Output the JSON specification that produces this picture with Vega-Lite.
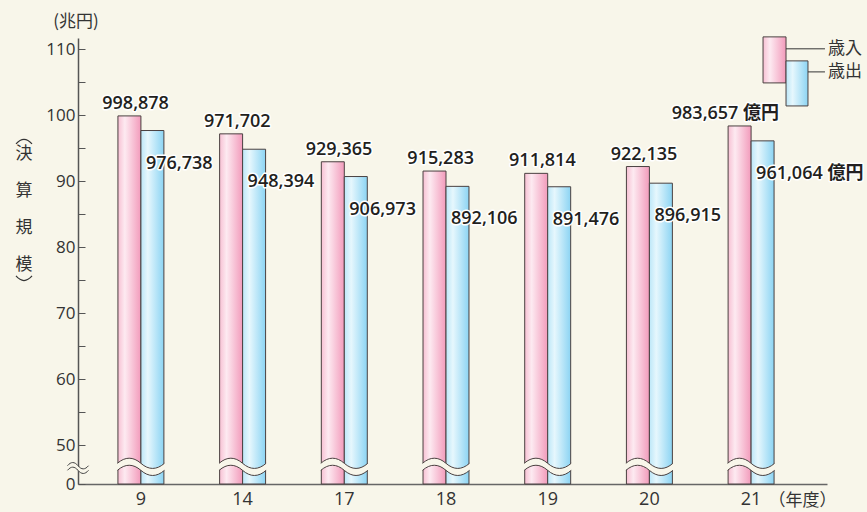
{
  "$schema": "https://vega.github.io/schema/vega-lite/v6.json",
  "width": 749,
  "height": 446,
  "autosize": {"type": "none"},
  "padding": {"left": 78, "top": 38, "right": 40, "bottom": 28},
  "background": "#f8f6ea",
  "config": {"view": {"stroke": null}, "font": "Open Sans"},
  "datasets": {
    "budget": [
      {"year": "9", "series": "歳入", "value": 99.8878, "label": "998,878"},
      {"year": "9", "series": "歳出", "value": 97.6738, "label": "976,738"},
      {"year": "14", "series": "歳入", "value": 97.1702, "label": "971,702"},
      {"year": "14", "series": "歳出", "value": 94.8394, "label": "948,394"},
      {"year": "17", "series": "歳入", "value": 92.9365, "label": "929,365"},
      {"year": "17", "series": "歳出", "value": 90.6973, "label": "906,973"},
      {"year": "18", "series": "歳入", "value": 91.5283, "label": "915,283"},
      {"year": "18", "series": "歳出", "value": 89.2106, "label": "892,106"},
      {"year": "19", "series": "歳入", "value": 91.1814, "label": "911,814"},
      {"year": "19", "series": "歳出", "value": 89.1476, "label": "891,476"},
      {"year": "20", "series": "歳入", "value": 92.2135, "label": "922,135"},
      {"year": "20", "series": "歳出", "value": 89.6915, "label": "896,915"},
      {"year": "21", "series": "歳入", "value": 98.3657, "label": "983,657 億円"},
      {"year": "21", "series": "歳出", "value": 96.1064, "label": "961,064 億円"}
    ],
    "years": [
      {"year": "9"}, {"year": "14"}, {"year": "17"}, {"year": "18"}, {"year": "19"}, {"year": "20"}, {"year": "21"}
    ],
    "legend": [
      {"series": "歳入"}, {"series": "歳出"}
    ],
    "one": [{"item": "decor"}]
  },
  "layer": [
    {
      "layer": [
        {
          "data": {"name": "budget"},
          "mark": {"type": "bar", "stroke": "#4a4040", "strokeWidth": 1},
          "encoding": {
            "x": {
              "field": "year", "type": "nominal",
              "sort": ["9", "14", "17", "18", "19", "20", "21"],
              "scale": {"paddingInner": 0.548, "paddingOuter": 0.4565, "align": 0.43},
              "axis": {
                "labelAngle": 0, "ticks": false, "domainColor": "#666", "domainWidth": 1.5,
                "labelFontSize": 18, "labelColor": "#333", "labelPadding": 6, "labelFont": "Open Sans",
                "title": "（年度）", "titleX": 724, "titleY": 16, "titleAlign": "center",
                "titleBaseline": "middle", "titleFont": "Noto Sans CJK JP",
                "titleFontSize": 17, "titleFontWeight": "normal", "titleColor": "#333"
              }
            },
            "xOffset": {
              "field": "series", "type": "nominal",
              "scale": {"domain": ["歳入", "歳出"], "paddingInner": 0, "paddingOuter": 0}
            },
            "y": {
              "field": "value", "type": "quantitative",
              "scale": {"domain": [0, 50, 111.7], "range": [446, 407, 0], "nice": false, "zero": false},
              "axis": {
                "values": [0, 50, 55, 60, 65, 70, 75, 80, 85, 90, 95, 100, 105, 110],
                "tickCount": 30,
                "labelExpr": "datum.value % 10 === 0 ? datum.label : ''",
                "labelOverlap": false,
                "tickSize": -7, "tickColor": "#555", "domainColor": "#555", "domainWidth": 1.5,
                "grid": false,
                "labelFontSize": 17, "labelColor": "#333", "labelPadding": 10, "labelFont": "Open Sans",
                "title": null
              }
            },
            "fill": {
              "condition": {
                "test": "datum.series === '歳入'",
                "value": {"gradient": "linear", "x1": 0, "x2": 1, "y1": 0, "y2": 0,
                  "stops": [{"offset": 0, "color": "#f7c0d3"}, {"offset": 0.3, "color": "#fdeaf1"}, {"offset": 1, "color": "#f29bbb"}]}
              },
              "value": {"gradient": "linear", "x1": 0, "x2": 1, "y1": 0, "y2": 0,
                "stops": [{"offset": 0, "color": "#bce7f8"}, {"offset": 0.3, "color": "#e6f7fd"}, {"offset": 1, "color": "#8cd4f3"}]}
            }
          }
        },
        {
          "data": {"name": "years"},
          "mark": {"type": "point", "filled": true, "fill": "#f8f6ea", "strokeWidth": 0, "opacity": 1,
            "shape": "M-1,-0.15 C-0.67,-0.44 -0.33,-0.44 0,-0.15 C0.33,0.14 0.67,0.14 1,-0.15 L1.05,-0.15 L1.05,0.15 L1,0.15 C0.67,0.44 0.33,0.44 0,0.15 C-0.33,-0.14 -0.67,-0.14 -1,0.15 L-1.05,0.15 L-1.05,-0.15 Z",
            "size": 2209},
          "encoding": {
            "x": {"field": "year", "type": "nominal", "sort": ["9", "14", "17", "18", "19", "20", "21"]},
            "y": {"datum": 22}
          }
        },
        {
          "data": {"name": "years"},
          "mark": {"type": "point", "filled": false, "stroke": "#4a4040", "strokeWidth": 1, "opacity": 1,
            "shape": "M-1,-0.15 C-0.67,-0.44 -0.33,-0.44 0,-0.15 C0.33,0.14 0.67,0.14 1,-0.15 M-1,0.15 C-0.67,-0.14 -0.33,-0.14 0,0.15 C0.33,0.44 0.67,0.44 1,0.15",
            "size": 2209},
          "encoding": {
            "x": {"field": "year", "type": "nominal", "sort": ["9", "14", "17", "18", "19", "20", "21"]},
            "y": {"datum": 22}
          }
        },
        {
          "data": {"name": "budget"},
          "transform": [{"filter": "datum.series === '歳入'"}],
          "mark": {"type": "text", "align": "right", "baseline": "alphabetic", "dx": 28, "dy": -7,
            "fontSize": 18, "fontWeight": 600, "font": "Open Sans, Noto Sans CJK JP", "stroke": "white", "strokeWidth": 3, "strokeJoin": "round", "fill": "white"},
          "encoding": {
            "x": {"field": "year", "type": "nominal", "sort": ["9", "14", "17", "18", "19", "20", "21"]},
            "y": {"field": "value", "type": "quantitative"},
            "text": {"field": "label"}
          }
        },
        {
          "data": {"name": "budget"},
          "transform": [{"filter": "datum.series === '歳入'"}],
          "mark": {"type": "text", "align": "right", "baseline": "alphabetic", "dx": 28, "dy": -7,
            "fontSize": 18, "fontWeight": 600, "font": "Open Sans, Noto Sans CJK JP", "fill": "#231f20"},
          "encoding": {
            "x": {"field": "year", "type": "nominal", "sort": ["9", "14", "17", "18", "19", "20", "21"]},
            "y": {"field": "value", "type": "quantitative"},
            "text": {"field": "label"}
          }
        },
        {
          "data": {"name": "budget"},
          "transform": [{"filter": "datum.series === '歳出'"}],
          "mark": {"type": "text", "align": "left", "baseline": "alphabetic", "dx": 5, "dy": 38,
            "fontSize": 18, "fontWeight": 600, "font": "Open Sans, Noto Sans CJK JP", "stroke": "white", "strokeWidth": 3, "strokeJoin": "round", "fill": "white"},
          "encoding": {
            "x": {"field": "year", "type": "nominal", "sort": ["9", "14", "17", "18", "19", "20", "21"]},
            "y": {"field": "value", "type": "quantitative"},
            "text": {"field": "label"}
          }
        },
        {
          "data": {"name": "budget"},
          "transform": [{"filter": "datum.series === '歳出'"}],
          "mark": {"type": "text", "align": "left", "baseline": "alphabetic", "dx": 5, "dy": 38,
            "fontSize": 18, "fontWeight": 600, "font": "Open Sans, Noto Sans CJK JP", "fill": "#231f20"},
          "encoding": {
            "x": {"field": "year", "type": "nominal", "sort": ["9", "14", "17", "18", "19", "20", "21"]},
            "y": {"field": "value", "type": "quantitative"},
            "text": {"field": "label"}
          }
        }
      ]
    },
    {
      "layer": [
        {
          "data": {"name": "one"},
          "mark": {"type": "point", "filled": true, "fill": "#f8f6ea", "strokeWidth": 0, "opacity": 1,
            "shape": "M-1,-0.22 C-0.67,-0.62 -0.33,-0.62 0,-0.22 C0.33,0.18 0.67,0.18 1,-0.22 L1,0.22 C0.67,0.62 0.33,0.62 0,0.22 C-0.33,-0.18 -0.67,-0.18 -1,0.22 Z",
            "size": 441},
          "encoding": {
            "x": {"datum": 0, "type": "quantitative", "scale": {"domain": [0, 1], "nice": false, "zero": false}, "axis": null},
            "y": {"datum": 20.5}
          }
        },
        {
          "data": {"name": "one"},
          "mark": {"type": "point", "filled": false, "stroke": "#444", "strokeWidth": 1, "opacity": 1,
            "shape": "M-1,-0.22 C-0.67,-0.62 -0.33,-0.62 0,-0.22 C0.33,0.18 0.67,0.18 1,-0.22 M-1,0.22 C-0.67,-0.18 -0.33,-0.18 0,0.22 C0.33,0.62 0.67,0.62 1,0.22",
            "size": 441},
          "encoding": {
            "x": {"datum": 0, "type": "quantitative"},
            "y": {"datum": 20.5}
          }
        },
        {
          "data": {"name": "one"},
          "mark": {"type": "text", "align": "center", "baseline": "middle", "fontSize": 17, "font": "Noto Sans CJK JP", "fill": "#333", "dx": -2},
          "encoding": {
            "x": {"datum": 0, "type": "quantitative"},
            "y": {"datum": 114.1},
            "text": {"value": "(兆円)"}
          }
        },
        {
          "data": {"name": "one"},
          "mark": {"type": "text", "align": "center", "baseline": "middle", "fontSize": 17, "font": "Noto Sans CJK JP", "fill": "#333", "lineHeight": 37},
          "encoding": {
            "x": {"datum": -0.0721, "type": "quantitative"},
            "y": {"datum": 94.12},
            "text": {"value": ["決", "算", "規", "模"]}
          }
        },
        {
          "data": {"name": "one"},
          "mark": {"type": "point", "filled": false, "stroke": "#333", "strokeWidth": 1.2, "opacity": 1,
            "shape": "M-1,0.25 Q0,-0.9 1,0.25", "size": 256},
          "encoding": {
            "x": {"datum": -0.0721, "type": "quantitative"},
            "y": {"datum": 95.94}
          }
        },
        {
          "data": {"name": "one"},
          "mark": {"type": "point", "filled": false, "stroke": "#333", "strokeWidth": 1.2, "opacity": 1,
            "shape": "M-1,-0.25 Q0,0.9 1,-0.25", "size": 256},
          "encoding": {
            "x": {"datum": -0.0721, "type": "quantitative"},
            "y": {"datum": 75.32}
          }
        },
        {
          "data": {"name": "legend"},
          "transform": [{"filter": "datum.series === '歳入'"}],
          "mark": {"type": "rect", "stroke": "#4a4040", "strokeWidth": 1},
          "encoding": {
            "x": {"datum": 0.9146, "type": "quantitative"},
            "x2": {"datum": 0.9453},
            "y": {"datum": 111.87},
            "y2": {"datum": 104.89},
            "fill": {"value": {"gradient": "linear", "x1": 0, "x2": 1, "y1": 0, "y2": 0,
              "stops": [{"offset": 0, "color": "#f7c0d3"}, {"offset": 0.3, "color": "#fdeaf1"}, {"offset": 1, "color": "#f29bbb"}]}}
          }
        },
        {
          "data": {"name": "legend"},
          "transform": [{"filter": "datum.series === '歳出'"}],
          "mark": {"type": "rect", "stroke": "#4a4040", "strokeWidth": 1},
          "encoding": {
            "x": {"datum": 0.9453, "type": "quantitative"},
            "x2": {"datum": 0.9746},
            "y": {"datum": 108.23},
            "y2": {"datum": 101.4},
            "fill": {"value": {"gradient": "linear", "x1": 0, "x2": 1, "y1": 0, "y2": 0,
              "stops": [{"offset": 0, "color": "#bce7f8"}, {"offset": 0.3, "color": "#e6f7fd"}, {"offset": 1, "color": "#8cd4f3"}]}}
          }
        },
        {
          "data": {"name": "legend"},
          "transform": [{"filter": "datum.series === '歳入'"}],
          "mark": {"type": "rule", "stroke": "#333", "strokeWidth": 1},
          "encoding": {
            "x": {"datum": 0.9453, "type": "quantitative"},
            "x2": {"datum": 0.9973},
            "y": {"datum": 110.06}
          }
        },
        {
          "data": {"name": "legend"},
          "transform": [{"filter": "datum.series === '歳出'"}],
          "mark": {"type": "rule", "stroke": "#333", "strokeWidth": 1},
          "encoding": {
            "x": {"datum": 0.9746, "type": "quantitative"},
            "x2": {"datum": 0.9973},
            "y": {"datum": 106.56}
          }
        },
        {
          "data": {"name": "legend"},
          "transform": [{"filter": "datum.series === '歳入'"}],
          "mark": {"type": "text", "align": "left", "baseline": "middle", "fontSize": 17, "font": "Noto Sans CJK JP", "fill": "#333"},
          "encoding": {
            "x": {"datum": 1.0013, "type": "quantitative"},
            "y": {"datum": 110.06},
            "text": {"field": "series"}
          }
        },
        {
          "data": {"name": "legend"},
          "transform": [{"filter": "datum.series === '歳出'"}],
          "mark": {"type": "text", "align": "left", "baseline": "middle", "fontSize": 17, "font": "Noto Sans CJK JP", "fill": "#333"},
          "encoding": {
            "x": {"datum": 1.0013, "type": "quantitative"},
            "y": {"datum": 106.56},
            "text": {"field": "series"}
          }
        }
      ]
    }
  ],
  "resolve": {"scale": {"x": "independent"}}
}
